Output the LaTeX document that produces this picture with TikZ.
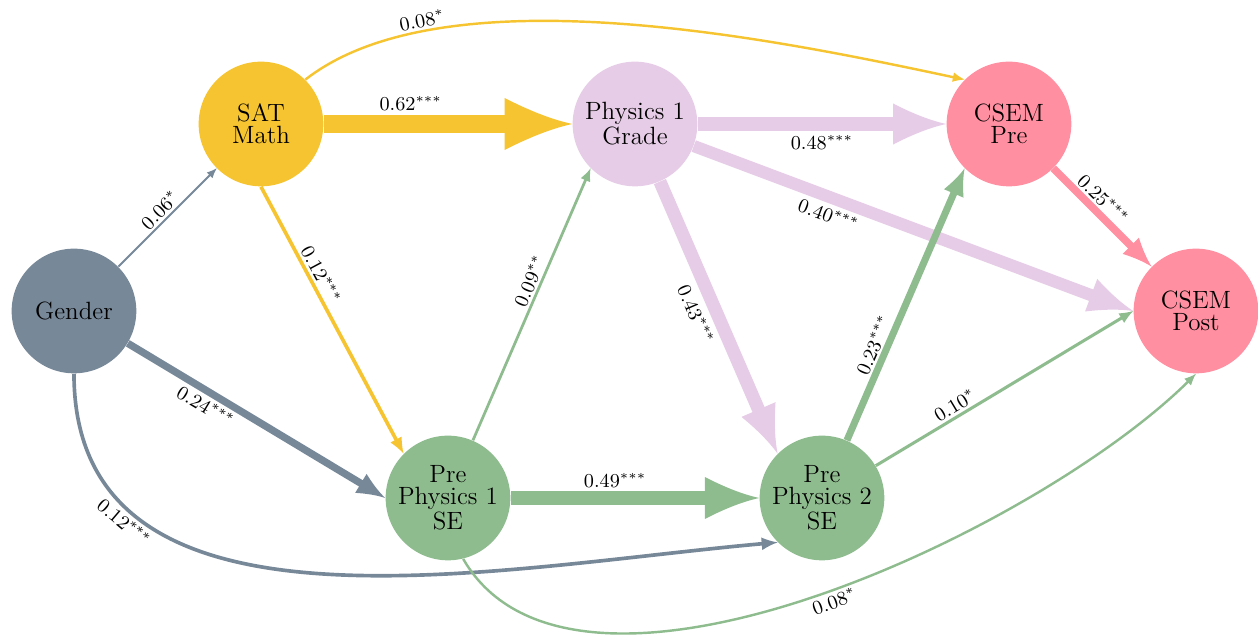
\documentclass[tikz,border=0pt]{standalone}
\usetikzlibrary{arrows.meta, positioning}
\definecolor{genderSlate}{HTML}{778899}
\definecolor{satGold}{HTML}{F6C431}
\definecolor{gradeLilac}{HTML}{E6CCE6}
\definecolor{csemPink}{HTML}{FF8FA1}
\definecolor{seGreen}{HTML}{8FBC8F}

% filled tip with hollowed flanks
\pgfdeclarearrow{
  name = Flare,
  parameters = {\the\pgfarrowlength,\the\pgfarrowwidth},
  setup code = {
    \pgfarrowssettipend{0pt}
    \pgfarrowssetbackend{-\pgfarrowlength}
    \pgfarrowssetlineend{-.7\pgfarrowlength}
    \pgfarrowssavethe\pgfarrowlength
    \pgfarrowssavethe\pgfarrowwidth
  },
  drawing code = {
    \pgfpathmoveto{\pgfpointorigin}
    \pgfpathcurveto{\pgfqpoint{-.35\pgfarrowlength}{.1\pgfarrowwidth}}
      {\pgfqpoint{-.7\pgfarrowlength}{.3\pgfarrowwidth}}
      {\pgfqpoint{-\pgfarrowlength}{.5\pgfarrowwidth}}
    \pgfpathlineto{\pgfqpoint{-\pgfarrowlength}{-.5\pgfarrowwidth}}
    \pgfpathcurveto{\pgfqpoint{-.7\pgfarrowlength}{-.3\pgfarrowwidth}}
      {\pgfqpoint{-.35\pgfarrowlength}{-.1\pgfarrowwidth}}
      {\pgfpointorigin}
    \pgfpathclose
    \pgfusepathqfill
  },
  defaults = {length = 1.6pt 3.4, width = 1.4pt 2.6}
}

\begin{document}
\begin{tikzpicture}[
    node distance=3cm, on grid,
    var/.style={circle, fill=#1, minimum size=2cm, inner sep=0pt,
                align=center, font=\fontsize{11.4}{10}\selectfont},
    effect/.style={-{Flare}, color=#1},
    coef/.style={line width=#1*13.9pt},
    lbl/.style={font=\fontsize{8.7}{10}\selectfont, text=black, sloped, inner sep=1.2pt},
  ]
    \useasboundingbox (-1.187,-5.198) rectangle (18.995,4.989);

    \node[var=genderSlate] (gender) {Gender};
    \node[var=satGold, above right=3cm and 3cm of gender] (sat) {SAT\\Math};
    \node[var=gradeLilac, right=6cm of sat] (grade) {Physics 1\\Grade};
    \node[var=csemPink, right=6cm of grade] (csempre) {CSEM\\Pre};
    \node[var=csemPink, below right=3cm and 3cm of csempre] (csempost) {CSEM\\Post};
    \node[var=seGreen, below right=3cm and 6cm of gender] (prese1) {Pre\\Physics 1\\SE};
    \node[var=seGreen, right=6cm of prese1] (prese2) {Pre\\Physics 2\\SE};

    % gender paths
    \draw[effect=genderSlate, coef=0.06] (gender) -- node[lbl, above] {$0.06^{*}$} (sat);
    \draw[effect=genderSlate, coef=0.24] (gender) -- node[lbl, below=0.2pt, pos=0.33] {$0.24^{***}$} (prese1.west);
    \draw[effect=genderSlate, coef=0.12] (gender.south) to[out=-90, in=185]
      node[lbl, below, pos=0.225] {$0.12^{***}$} (prese2.-135);

    % sat paths
    \draw[effect=satGold, coef=0.62] (sat) -- node[lbl, above=0.5pt, pos=0.35] {$0.62^{***}$} (grade);
    \draw[effect=satGold, coef=0.12] (sat.south) -- node[lbl, above, pos=0.35] {$0.12^{***}$} (prese1.135);
    \draw[effect=satGold, coef=0.08] (sat.45) to[out=38, in=168, looseness=0.7]
      node[lbl, above, pos=0.22] {$0.08^{*}$} (csempre.135);

    % grade paths
    \draw[effect=gradeLilac, coef=0.48] (grade) -- node[lbl, below=0.7pt] {$0.48^{***}$} (csempre);
    \draw[effect=gradeLilac, coef=0.40] (grade) -- node[lbl, below=0.5pt, pos=0.32] {$0.40^{***}$} (csempost.west);
    \draw[effect=gradeLilac, coef=0.43] (grade) -- node[lbl, below=1.5pt, pos=0.46] {$0.43^{***}$} (prese2.135);

    % self-efficacy paths
    \draw[effect=seGreen, coef=0.09] (prese1) -- node[lbl, above, pos=0.57] {$0.09^{**}$} (grade.-135);
    \draw[effect=seGreen, coef=0.49] (prese1) -- node[lbl, above=0.2pt, pos=0.42] {$0.49^{***}$} (prese2);
    \draw[effect=seGreen, coef=0.08] (prese1.-76) to[out=-60, in=-135, looseness=0.75]
      node[lbl, below, pos=0.52] {$0.08^{*}$} (csempost.south);
    \draw[effect=seGreen, coef=0.23] (prese2) -- node[lbl, above, pos=0.33] {$0.23^{***}$} (csempre.-135);
    \draw[effect=seGreen, coef=0.10] (prese2) -- node[lbl, above, pos=0.33] {$0.10^{*}$} (csempost.west);

    % csem path
    \draw[effect=csemPink, coef=0.25] (csempre) -- node[lbl, above, pos=0.41] {$0.25^{***}$} (csempost);
  \end{tikzpicture}
\end{document}
